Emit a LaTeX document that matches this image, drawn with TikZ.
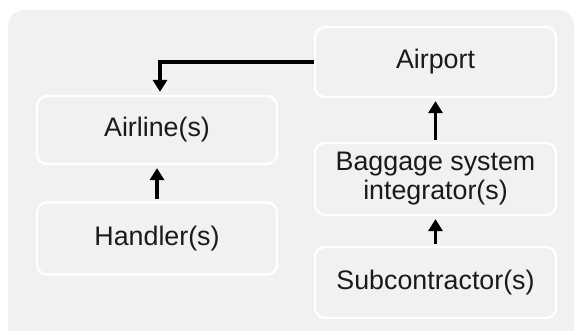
\documentclass[tikz,border=0pt]{standalone}
\usepackage{fontspec}
\setmainfont{Liberation Sans}
\usetikzlibrary{arrows.meta}
\definecolor{bggray}{HTML}{F1F1F1}
\definecolor{txt}{HTML}{1A1A1A}
\begin{document}
\begin{tikzpicture}[x=1pt,y=-1pt,
  entity/.style={draw=white, line width=2.2pt, fill=bggray, rounded corners=10pt,
    minimum width=240pt, align=center, text=txt, inner sep=0pt,
    font=\fontsize{26.8}{29}\selectfont},
  flow/.style={line width=3.2pt, -{Triangle[width=14pt,length=12pt]}, shorten <=2pt, shorten >=3pt}]
\useasboundingbox (0,0) rectangle (576,331);
\fill[white] (0,0) rectangle (576,331);
\fill[bggray, rounded corners=16pt] (8,10) rectangle (574,345);
\node[entity, minimum height=68pt] (airline) at (157,130) {Airline(s)};
\node[entity, minimum height=72pt] (handler) at (157,238.5) {Handler(s)};
\node[entity, minimum width=241pt, minimum height=70pt] (airport) at (435.5,62) {Airport};
\node[entity, minimum width=241pt, minimum height=72pt] (bsi) at (435.5,179) {Baggage system\\integrator(s)};
\node[entity, minimum width=241pt, minimum height=71pt] (sub) at (435.5,282.5) {Subcontractor(s)};
\draw[flow] (handler) -- (airline);
\draw[flow] (sub) -- (bsi);
\draw[flow] (bsi) -- (airport);
\draw[flow, shorten <=0pt] (airport.west) -| ([xshift=3pt]airline.north);
\end{tikzpicture}
\end{document}
